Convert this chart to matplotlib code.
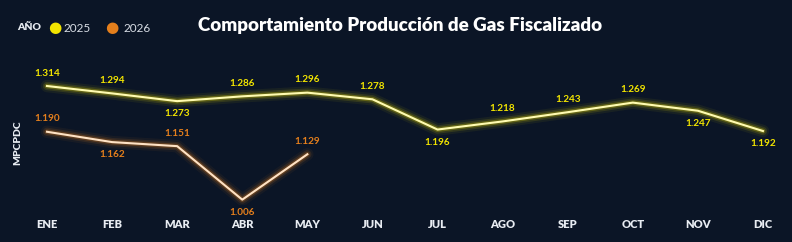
import matplotlib
matplotlib.use("Agg")
import matplotlib.pyplot as plt
import numpy as np

plt.rcParams["font.family"] = ["Lato", "DejaVu Sans"]

months = ["ENE", "FEB", "MAR", "ABR", "MAY", "JUN", "JUL", "AGO", "SEP", "OCT", "NOV", "DIC"]
prod_2025 = [1.314, 1.294, 1.273, 1.286, 1.296, 1.278, 1.196, 1.218, 1.243, 1.269, 1.247, 1.192]
prod_2026 = [1.190, 1.162, 1.151, 1.006, 1.129]
# label side: +1 above the point, -1 below
side_2025 = [1, 1, -1, 1, 1, 1, -1, 1, 1, 1, -1, -1]
side_2026 = [1, -1, 1, -1, 1]

BG = "#0b1526"
YELLOW = "#f2e400"
ORANGE = "#e57f1c"
LIGHT = "#e8ecf2"

fig = plt.figure(figsize=(7.92, 2.42), dpi=100, facecolor=BG)
ax = fig.add_axes([0, 37 / 242, 1, 165 / 242], facecolor=BG)

x25 = np.arange(len(prod_2025))
x26 = np.arange(len(prod_2026))


def glow_line(x, y, core, glow):
    for lw, a in [(9, 0.06), (6, 0.12), (3.5, 0.25)]:
        ax.plot(x, y, color=glow, lw=lw, alpha=a, solid_capstyle="round", solid_joinstyle="round")
    ax.plot(x, y, color=core, lw=1.5, solid_joinstyle="round")


glow_line(x25, prod_2025, "#fffbb0", YELLOW)
glow_line(x26, prod_2026, "#ffe2c4", ORANGE)

for x, v, s in zip(x25, prod_2025, side_2025):
    ax.annotate(f"{v:.3f}", (x, v), xytext=(0, 6 * s), textcoords="offset points",
                ha="center", va="bottom" if s > 0 else "top", color=YELLOW,
                fontsize=7.2, fontweight="bold")
for x, v, s in zip(x26, prod_2026, side_2026):
    ax.annotate(f"{v:.3f}", (x, v), xytext=(0, 6 * s), textcoords="offset points",
                ha="center", va="bottom" if s > 0 else "top", color=ORANGE,
                fontsize=7.2, fontweight="bold")

ax.set_xlim(-0.722, 11.446)
ax.set_ylim(0.9915, 1.4387)
ax.set_xticks(x25)
ax.set_xticklabels(months, color=LIGHT, fontsize=8, fontweight="heavy")
ax.tick_params(axis="x", length=0, pad=10)
ax.set_yticks([])
for sp in ax.spines.values():
    sp.set_visible(False)

fig.text(18 / 792, 1 - 143 / 242, "MPCPDC", rotation=90, ha="center", va="center",
         color=LIGHT, fontsize=7.5, fontweight="heavy")

fig.text(400 / 792, 1 - 25 / 242, "Comportamiento Producción de Gas Fiscalizado",
         ha="center", va="center", color="white", fontsize=13.5, fontweight="heavy")

# legend
fig.text(17 / 792, 1 - 28 / 242, "AÑO", ha="left", va="center", color=LIGHT,
         fontsize=7.5, fontweight="heavy")
fig.text(55 / 792, 1 - 28 / 242, "●", ha="center", va="center", color=YELLOW, fontsize=11,
         family="DejaVu Sans")
fig.text(63 / 792, 1 - 28 / 242, "2025", ha="left", va="center", color="#d8dde5", fontsize=8.5)
fig.text(112 / 792, 1 - 28 / 242, "●", ha="center", va="center", color=ORANGE, fontsize=11,
         family="DejaVu Sans")
fig.text(124 / 792, 1 - 28 / 242, "2026", ha="left", va="center", color="#d8dde5", fontsize=8.5)

fig.savefig("out.png", dpi=100, facecolor=BG)
